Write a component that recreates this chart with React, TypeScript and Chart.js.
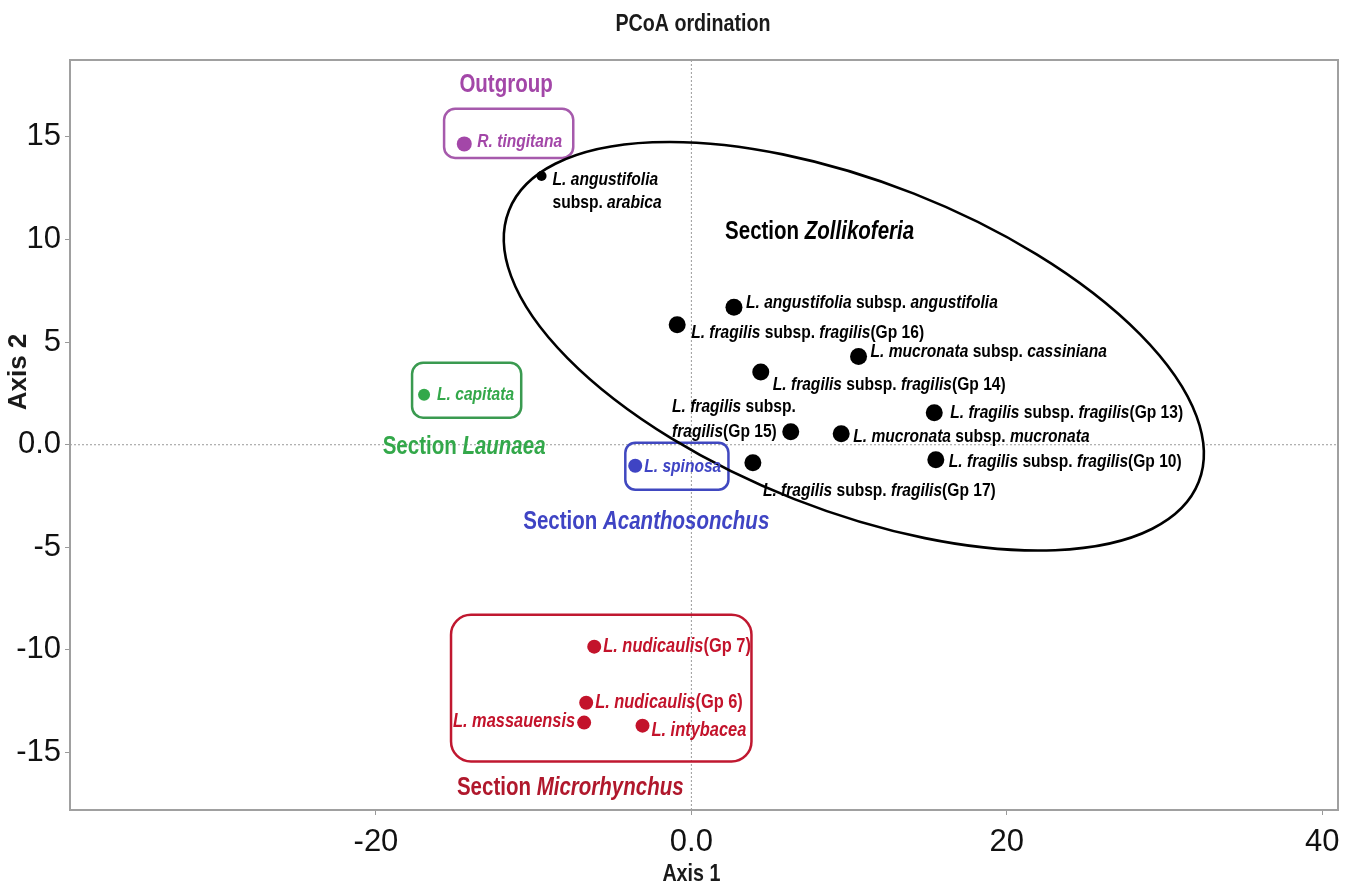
import React, { useEffect, useRef } from "react";
import { Chart, registerables } from "chart.js";
Chart.register(...registerables);

// ---------------- data ----------------
// "*...*" marks italic parts of a label, "\n" a line break
const zollNames = [
  "*L. angustifolia*\nsubsp. *arabica*",
  "*L. angustifolia* subsp. *angustifolia*",
  "*L. fragilis* subsp. *fragilis*(Gp 16)",
  "*L. mucronata* subsp. *cassiniana*",
  "*L. fragilis* subsp. *fragilis*(Gp 14)",
  "*L. fragilis* subsp. *fragilis*(Gp 13)",
  "*L. fragilis* subsp.\n*fragilis*(Gp 15)",
  "*L. mucronata* subsp. *mucronata*",
  "*L. fragilis* subsp. *fragilis*(Gp 10)",
  "*L. fragilis* subsp. *fragilis*(Gp 17)",
];
const zollX = [-9.5, 2.7, -0.9, 10.6, 4.4, 15.4, 6.3, 9.5, 15.5, 3.9];
const zollY = [13.1, 6.7, 5.85, 4.3, 3.55, 1.56, 0.63, 0.54, -0.73, -0.88];

const outNames = ["*R. tingitana*"];
const outX = [-14.4];
const outY = [14.66];

const launNames = ["*L. capitata*"];
const launX = [-16.95];
const launY = [2.44];

const acanNames = ["*L. spinosa*"];
const acanX = [-3.56];
const acanY = [-1.02];

const microNames = ["*L. nudicaulis*(Gp 7)", "*L. nudicaulis*(Gp 6)", "*L. massauensis*", "*L. intybacea*"];
const microX = [-6.16, -6.67, -6.8, -3.1];
const microY = [-9.84, -12.57, -13.54, -13.69];

const sectionLabels = ["Outgroup", "Section *Zollikoferia*", "Section *Launaea*", "Section *Acanthosonchus*", "Section *Microrhynchus*"];
const sectionX = [-11.75, 8.13, -14.41, -2.86, -7.68];
const sectionY = [17.53, 10.37, -0.1, -3.75, -16.71];

// group boxes in data units: [xMin, xMax, yMin, yMax]
const boxOut = [-15.68, -7.49, 13.98, 16.37];
const boxLaun = [-17.71, -10.79, 1.32, 3.99];
const boxAcan = [-4.19, 2.35, -2.19, 0.1];
const boxMicro = [-15.24, 3.81, -15.44, -8.28];

// Zollikoferia ellipse: centre (data), semi-axes (x units), rotation (deg)
const ellipseCenter = [10.3, 4.8];
const ellipseAxes = [23.5, 10.4];
const ellipseAngle = 21.5;

const xTickValues = [-20, 0, 20, 40];
const yTickValues = [-15, -10, -5, 0, 5, 10, 15];

// ---------------- styles / layout ----------------
const FONT = "'Liberation Sans', Arial, sans-serif";
const NARROW = 0.82; // horizontal condensing, to mimic a narrow face
const TICK_FONT = "'Liberation Sans', Arial, sans-serif";
const COL = {
  zoll: "#000000",
  out: "#a347a8",
  outBox: "#a65aac",
  laun: "#33a84a",
  launBox: "#3a9a50",
  acan: "#3f44c4",
  acanBox: "#4048c0",
  micro: "#c3132b",
  microBox: "#c01830",
  microText: "#b0182c",
};
type Lay = { dx: number; dy: number; align?: "left" | "right" | "lastRight"; lh?: number };
const zollLayout: Lay[] = [
  { dx: 11, dy: 4, lh: 23 },
  { dx: 12, dy: -4 },
  { dx: 14, dy: 8 },
  { dx: 12, dy: -5 },
  { dx: 12, dy: 13 },
  { dx: 16, dy: 0 },
  { dx: -14, dy: -25, align: "lastRight", lh: 25 },
  { dx: 12, dy: 3 },
  { dx: 13, dy: 2 },
  { dx: 10, dy: 28 },
];
const zollRadius = [5, 8.5, 8.5, 8.5, 8.5, 8.5, 8.5, 8.5, 8.5, 8.5];
const outLayout: Lay[] = [{ dx: 13, dy: -2 }];
const launLayout: Lay[] = [{ dx: 13, dy: 0 }];
const acanLayout: Lay[] = [{ dx: 9, dy: 1 }];
const microLayout: Lay[] = [
  { dx: 9, dy: 0 },
  { dx: 9, dy: 0 },
  { dx: -9, dy: -1, align: "right" },
  { dx: 9, dy: 5 },
];

function segs(line: string) {
  return line.split("*").map((t, i) => ({ t, it: i % 2 === 1 })).filter((s) => s.t.length);
}
function fontFor(it: boolean, size: number, bold: boolean) {
  return `${it ? "italic " : ""}${bold ? "bold " : ""}${size}px ${FONT}`;
}
function lineWidth(ctx: CanvasRenderingContext2D, line: string, size: number, bold: boolean, k: number) {
  let w = 0;
  for (const s of segs(line)) {
    ctx.font = fontFor(s.it, size, bold);
    w += ctx.measureText(s.t).width * k;
  }
  return w;
}
function drawLine(ctx: CanvasRenderingContext2D, line: string, x: number, y: number, size: number, bold: boolean, k: number) {
  let cx = x;
  for (const s of segs(line)) {
    ctx.font = fontFor(s.it, size, bold);
    const w = ctx.measureText(s.t).width * k;
    ctx.save();
    ctx.translate(cx, y);
    ctx.scale(k, 1);
    ctx.fillText(s.t, 0, 0);
    ctx.restore();
    cx += w;
  }
}
function drawRich(
  ctx: CanvasRenderingContext2D,
  text: string,
  x: number,
  y: number,
  size: number,
  color: string,
  align: "left" | "right" | "center" | "lastRight",
  lh = 22,
  bold = true,
  k = NARROW
) {
  const lines = text.split("\n");
  ctx.save();
  ctx.fillStyle = color;
  ctx.textBaseline = "middle";
  ctx.textAlign = "left";
  let x0 = x;
  if (align === "lastRight") x0 = x - lineWidth(ctx, lines[lines.length - 1], size, bold, k);
  lines.forEach((ln, i) => {
    const w = lineWidth(ctx, ln, size, bold, k);
    let lx = x0;
    if (align === "right") lx = x - w;
    else if (align === "center") lx = x - w / 2;
    drawLine(ctx, ln, lx, y + i * lh, size, bold, k);
  });
  ctx.restore();
}
function roundBox(ctx: CanvasRenderingContext2D, x0: number, y0: number, x1: number, y1: number, r: number) {
  const l = Math.min(x0, x1), rr = Math.max(x0, x1), t = Math.min(y0, y1), b = Math.max(y0, y1);
  ctx.beginPath();
  ctx.moveTo(l + r, t);
  ctx.lineTo(rr - r, t);
  ctx.arcTo(rr, t, rr, t + r, r);
  ctx.lineTo(rr, b - r);
  ctx.arcTo(rr, b, rr - r, b, r);
  ctx.lineTo(l + r, b);
  ctx.arcTo(l, b, l, b - r, r);
  ctx.lineTo(l, t + r);
  ctx.arcTo(l, t, l + r, t, r);
  ctx.closePath();
}

const groups = [
  { names: zollNames, xs: zollX, ys: zollY, lay: zollLayout, color: COL.zoll, size: 19 },
  { names: outNames, xs: outX, ys: outY, lay: outLayout, color: COL.out, size: 19 },
  { names: launNames, xs: launX, ys: launY, lay: launLayout, color: COL.laun, size: 19 },
  { names: acanNames, xs: acanX, ys: acanY, lay: acanLayout, color: COL.acan, size: 19 },
  { names: microNames, xs: microX, ys: microY, lay: microLayout, color: COL.micro, size: 20 },
];
const sectionColors = [COL.out, COL.zoll, COL.laun, COL.acan, COL.microText];

const annotPlugin = {
  id: "annot",
  beforeDatasetsDraw(chart: any) {
    const { ctx, chartArea: a, scales } = chart;
    const x0 = scales.x.getPixelForValue(0);
    const y0 = scales.y.getPixelForValue(0);
    ctx.save();
    ctx.strokeStyle = "#9a9a9a";
    ctx.lineWidth = 1;
    ctx.setLineDash([2, 2]);
    ctx.beginPath();
    ctx.moveTo(x0, a.top);
    ctx.lineTo(x0, a.bottom);
    ctx.moveTo(a.left, y0);
    ctx.lineTo(a.right, y0);
    ctx.stroke();
    ctx.restore();
  },
  afterDatasetsDraw(chart: any) {
    const { ctx, scales } = chart;
    const X = (v: number) => scales.x.getPixelForValue(v);
    const Y = (v: number) => scales.y.getPixelForValue(v);
    const ppu = X(1) - X(0);

    const boxes: [number[], string, number][] = [
      [boxOut, COL.outBox, 11],
      [boxLaun, COL.launBox, 11],
      [boxAcan, COL.acanBox, 10],
      [boxMicro, COL.microBox, 20],
    ];
    ctx.save();
    ctx.lineWidth = 2.5;
    for (const [b, c, r] of boxes) {
      ctx.strokeStyle = c;
      roundBox(ctx, X(b[0]), Y(b[2]), X(b[1]), Y(b[3]), r);
      ctx.stroke();
    }
    ctx.strokeStyle = "#000";
    ctx.lineWidth = 2.6;
    ctx.beginPath();
    ctx.ellipse(
      X(ellipseCenter[0]),
      Y(ellipseCenter[1]),
      ellipseAxes[0] * ppu,
      ellipseAxes[1] * ppu,
      (ellipseAngle * Math.PI) / 180,
      0,
      Math.PI * 2
    );
    ctx.stroke();
    ctx.restore();

    for (const g of groups) {
      g.names.forEach((n, i) => {
        const L = g.lay[i];
        drawRich(ctx, n, X(g.xs[i]) + L.dx, Y(g.ys[i]) + L.dy, g.size, g.color, L.align || "left", L.lh || 22);
      });
    }
    sectionLabels.forEach((s, i) => {
      drawRich(ctx, s, X(sectionX[i]), Y(sectionY[i]), 25, sectionColors[i], "center");
    });
  },
  afterDraw(chart: any) {
    const { ctx, chartArea: a, scales } = chart;
    ctx.save();
    ctx.strokeStyle = "#a0a0a0";
    ctx.lineWidth = 2;
    ctx.strokeRect(a.left, a.top, a.right - a.left, a.bottom - a.top);
    ctx.restore();
    const x0 = scales.x.getPixelForValue(0);
    drawRich(ctx, "PCoA ordination", (a.left + a.right) / 2 - 11, 24, 24, "#1a1a1a", "center");
    drawRich(ctx, "Axis 1", x0, 874, 24, "#1a1a1a", "center");
    ctx.save();
    ctx.translate(19, 372);
    ctx.rotate(-Math.PI / 2);
    drawRich(ctx, "Axis 2", 0, 0, 26, "#1a1a1a", "center", 22, true, 1);
    ctx.restore();
  },
};

export default function App() {
  const ref = useRef<HTMLCanvasElement | null>(null);
  useEffect(() => {
    if (!ref.current) return;
    const mk = (xs: number[], ys: number[]) => xs.map((x, i) => ({ x, y: ys[i] }));
    const chart = new Chart(ref.current, {
      type: "scatter",
      data: {
        datasets: [
          { label: "Zollikoferia", data: mk(zollX, zollY), backgroundColor: COL.zoll, borderWidth: 0, pointRadius: zollRadius },
          { label: "Outgroup", data: mk(outX, outY), backgroundColor: COL.out, borderWidth: 0, pointRadius: 7.5 },
          { label: "Launaea", data: mk(launX, launY), backgroundColor: COL.laun, borderWidth: 0, pointRadius: 6 },
          { label: "Acanthosonchus", data: mk(acanX, acanY), backgroundColor: COL.acan, borderWidth: 0, pointRadius: 7 },
          { label: "Microrhynchus", data: mk(microX, microY), backgroundColor: COL.micro, borderWidth: 0, pointRadius: 7 },
        ],
      },
      options: {
        responsive: false,
        animation: false,
        devicePixelRatio: 1,
        layout: { padding: { top: 60, right: 16, left: 0, bottom: 0 } },
        plugins: { legend: { display: false }, tooltip: { enabled: false }, title: { display: false } },
        scales: {
          x: {
            type: "linear",
            min: -39.4,
            max: 41,
            afterFit: (s: any) => {
              s.height = 79;
              s.paddingLeft = 0;
              s.paddingRight = 0;
            },
            afterBuildTicks: (s: any) => {
              s.ticks = xTickValues.map((v) => ({ value: v }));
            },
            ticks: {
              font: { family: TICK_FONT, size: 31 },
              color: "#111",
              padding: 9,
              maxRotation: 0,
              callback: (v: any) => (v === 0 ? "0.0" : String(v)),
            },
            grid: { drawOnChartArea: false, tickLength: 5, color: "#999", tickColor: "#999" },
            border: { display: false },
          },
          y: {
            type: "linear",
            min: -17.8,
            max: 18.75,
            afterFit: (s: any) => {
              s.width = 70;
              s.paddingTop = 0;
              s.paddingBottom = 0;
            },
            afterBuildTicks: (s: any) => {
              s.ticks = yTickValues.map((v) => ({ value: v }));
            },
            ticks: {
              font: { family: TICK_FONT, size: 31 },
              color: "#111",
              padding: 4,
              callback: (v: any) => (v === 0 ? "0.0" : String(v)),
            },
            grid: { drawOnChartArea: false, tickLength: 5, color: "#999", tickColor: "#999" },
            border: { display: false },
          },
        },
      },
      plugins: [annotPlugin],
    } as any);
    return () => chart.destroy();
  }, []);
  return (
    <div style={{ position: "absolute", left: 0, top: 0, width: 1354, height: 889, background: "#fff" }}>
      <canvas ref={ref} width={1354} height={889} style={{ display: "block" }} />
    </div>
  );
}
